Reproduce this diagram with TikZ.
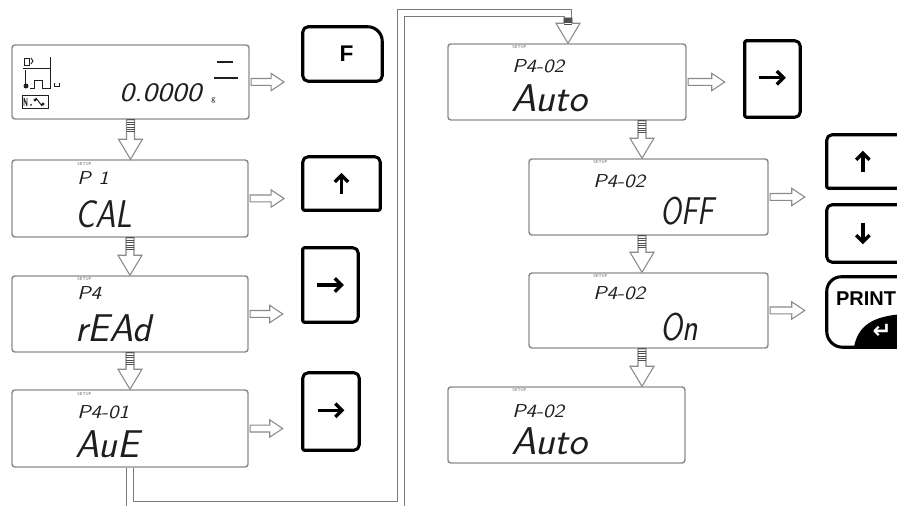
\documentclass[tikz,border=0pt]{standalone}
\usepackage{fontspec}
\usetikzlibrary{fit,calc,arrows.meta}
\newfontfamily\keyfont{Liberation Sans}
\newfontfamily\symfont{DejaVu Sans}
\definecolor{lcdgray}{HTML}{8C8C8C}
\definecolor{lcdtext}{HTML}{1E1E1E}
\definecolor{arrgray}{HTML}{8A8A8A}
\definecolor{hatchc}{HTML}{505050}
\definecolor{linegray}{HTML}{7A7A7A}
\tikzset{
 lcd/.style={draw=lcdgray, line width=1.1pt, rounded corners=2.2pt, fill=white, inner sep=0pt},
 keyspot/.style={inner sep=0pt},
 keyline/.style={draw=black, line width=2.3pt, fill=white, line join=round},
 blockarrow/.style={draw=arrgray, line width=0.8pt, fill=white, line join=miter},
 hatchline/.style={draw=hatchc, line width=0.6pt},
 dbl/.style={draw=linegray, line width=0.85pt, double=white, double distance=4.3pt},
 setuptxt/.style={font=\sffamily\fontsize{3.2}{4}\selectfont, text=black!60, inner sep=0pt, anchor=base west},
 smalltxt/.style={font=\sffamily\itshape\fontsize{14}{14}\selectfont, text=lcdtext, inner sep=0pt, anchor=base west},
 bigtxt/.style={font=\sffamily\itshape\fontsize{29}{29}\selectfont, text=lcdtext, inner sep=0pt, anchor=base west},
 keytxt/.style={font=\keyfont\bfseries\fontsize{14}{14}\selectfont, inner sep=0pt},
 keyarrow/.style={draw=black, line width=2.5pt, -{Straight Barb[length=5pt,width=10pt]}},
 icon/.style={draw=lcdtext, line width=0.7pt},
}
\newcommand\vdarrow[3]{%
  \draw[blockarrow] let \p1=(#1), \p2=(#2) in
    ({\x1-3pt},{\y1}) -- ({\x1-3pt},{\y2+15pt}) -- ({\x1-9pt},{\y2+15pt}) -- (\x1,\y2)
    -- ({\x1+9pt},{\y2+15pt}) -- ({\x1+3pt},{\y2+15pt}) -- ({\x1+3pt},{\y1}) -- cycle;
  \foreach \k in {0,...,5}{\draw[hatchline] let \p1=(#1) in ({\x1-3pt},{\y1-\k*#3/5}) -- ({\x1+3pt},{\y1-\k*#3/5});}%
}
\newcommand\hrarrow[2]{%
  \draw[blockarrow] let \p1=(#1), \p2=(#2) in
   ({\x1+1pt},{\y1+2.6pt}) -- ({\x2-9.75pt},{\y1+2.6pt}) -- ({\x2-9.75pt},{\y1+6.5pt}) -- (\x2,\y1)
   -- ({\x2-9.75pt},{\y1-6.5pt}) -- ({\x2-9.75pt},{\y1-2.6pt}) -- ({\x1+1pt},{\y1-2.6pt}) -- cycle;}
\newcommand\keyshape[5]{%
  \draw[keyline] (#1.west) [rounded corners=#2] -- (#1.north west) [rounded corners=#3] -- (#1.north east)
   [rounded corners=#4] -- (#1.south east) [rounded corners=#5] -- (#1.south west) [sharp corners] -- cycle;}
\newcommand\sx[2]{\scalebox{#1}[1]{#2}}
\begin{document}
\begin{tikzpicture}[x=0.75pt,y=-0.75pt]
\useasboundingbox[fill=white] (0,0) rectangle (897,506);

% connector (double line)
\coordinate (c1) at (130,505);
\coordinate (c2) at (401,505);
\coordinate (c3) at (401,13);
\coordinate (c4) at (568,13);
\coordinate (c5) at (568,18);

% LCD boxes
\node[lcd, fit={(12,45)(249,119)}] (b1) {};
\node[lcd, fit={(12,160)(248,237)}] (b2) {};
\node[lcd, fit={(12,276)(248,352)}] (b3) {};
\node[lcd, fit={(12,390)(248,467)}] (b4) {};
\node[lcd, fit={(448,44)(686,120)}] (b5) {};
\node[lcd, fit={(529,159)(768,235)}] (b6) {};
\node[lcd, fit={(529,273)(768,348)}] (b7) {};
\node[lcd, fit={(448,387)(685,463)}] (b8) {};

\draw[dbl] (b4.south) -- (c1) -- (c2) -- (c3) -- (c4) -- (c5);

% keys
\node[keyspot, fit={(303,27)(382,81)}] (kF) {};
\node[keyspot, fit={(303,157)(380,210)}] (kUp1) {};
\node[keyspot, fit={(303,248)(358,322)}] (kR1) {};
\node[keyspot, fit={(303,373)(359,450)}] (kR2) {};
\node[keyspot, fit={(745,41)(800,117)}] (kR3) {};
\node[keyspot, fit={(827,135)(904,188)}] (kUp2) {};
\node[keyspot, fit={(827,205)(904,262)}] (kDn) {};
\node[keyspot, fit={(827,277)(904,347)}] (kPr) {};

\keyshape{kF}{4pt}{11pt}{4pt}{4pt}
\keyshape{kUp1}{4pt}{4pt}{1pt}{1pt}
\keyshape{kR1}{1pt}{4pt}{4pt}{1pt}
\keyshape{kR2}{4pt}{4pt}{4pt}{1pt}
\keyshape{kR3}{1pt}{4pt}{4pt}{1pt}
\keyshape{kUp2}{4pt}{4pt}{4pt}{1pt}
\keyshape{kDn}{4pt}{4pt}{4pt}{4pt}
\keyshape{kPr}{11pt}{4pt}{4pt}{12pt}

\node[keytxt, font=\keyfont\bfseries\fontsize{17}{17}\selectfont] (tF) at ([xshift=3pt]kF.center) {F};
\draw[keyarrow] ([yshift=-8pt]kUp1.center) -- ([yshift=8pt]kUp1.center);
\draw[keyarrow] ([xshift=-10pt]kR1.center) -- ([xshift=10pt]kR1.center);
\draw[keyarrow] ([xshift=-10pt,yshift=1pt]kR2.center) -- ([xshift=10pt,yshift=1pt]kR2.center);
\draw[keyarrow] ([xshift=-10pt,yshift=1pt]kR3.center) -- ([xshift=10pt,yshift=1pt]kR3.center);
\draw[keyarrow] ([xshift=-2pt,yshift=-8pt]kUp2.center) -- ([xshift=-2pt,yshift=8pt]kUp2.center);
\draw[keyarrow] ([xshift=-2pt,yshift=8pt]kDn.center) -- ([xshift=-2pt,yshift=-8pt]kDn.center);
\fill[black] (854,347) .. controls (858,326) and (872,316) .. (904,314) -- (904,347) -- cycle;
\node[keytxt, font=\keyfont\bfseries\fontsize{15}{15}\selectfont] (tPr) at (866,299) {PRINT};
\node[font=\symfont\bfseries\fontsize{17}{17}\selectfont, text=white, inner sep=0pt] (tEnt) at (882,331) {↵};

% arrows between boxes
\vdarrow{b1.south}{b2.north}{9pt}
\vdarrow{b2.south}{b3.north}{9pt}
\vdarrow{b3.south}{b4.north}{9pt}
\vdarrow{c5}{b5.north}{4.5pt}
\vdarrow{b5.south -| 642,0}{b6.north}{9pt}
\vdarrow{b6.south -| 642,0}{b7.north}{9pt}
\vdarrow{b7.south -| 642,0}{b8.north}{9pt}

\hrarrow{b1.east}{[xshift=-14pt]kF.west}
\hrarrow{b2.east}{[xshift=-14pt]kUp1.west}
\hrarrow{b3.east}{[xshift=-15pt]kR1.west}
\hrarrow{b4.east}{[xshift=-15pt]kR2.west}
\hrarrow{b5.east}{[xshift=-15pt]kR3.west}
\hrarrow{b6.east}{[xshift=-16.5pt]kUp2.west}
\hrarrow{b7.east}{[xshift=-16.5pt]kPr.west}

% box 1 contents
\draw[icon] (50,57) -- (50,88) -- (42,88) -- (42,80) -- (34,80) -- (34,88) -- (30,88);
\draw[icon] (23,68) -- (50,68);
\draw[icon] (24,58) rectangle (29,65);
\draw[icon] (31,58) -- (33,61) -- (31,64);
\draw[icon] (25,70) -- (25,85);
\fill[lcdtext] (26,86) circle (2.5);
\draw[icon] (54,83) -- (54,86) -- (59,86) -- (59,83);
\draw[icon] (22,95) rectangle (48,108);
\draw[icon] (24,98) -- (24,106) (27,98) -- (27,106) (24,98) -- (27,106);
\fill[lcdtext] (31,105) circle (1);
\draw[icon] (36,98) -- (42,106) (35,100) circle (1) (43,104) circle (1);
\draw[lcdtext, line width=1.1pt] (217,62) -- (233,62);
\draw[lcdtext, line width=2pt] (214,78) -- (238,78);
\node[font=\sffamily\itshape\fontsize{20}{20}\selectfont, text=lcdtext, inner sep=0pt, anchor=base west] (t1) at (119,102) {\sx{1.18}{0.0000}};
\node[font=\sffamily\fontsize{6}{6}\selectfont, text=lcdtext, inner sep=0pt, anchor=base west] (t1g) at (211,102) {g};

% texts
\node[setuptxt] (s2) at (77,166) {SETUP};
\node[smalltxt] (p2) at (77,185) {\sx{1.15}{P\hspace{5pt}1}};
\node[bigtxt] (m2) at (75,228) {\sx{0.85}{CAL}};
\node[setuptxt] (s3) at (77,281) {SETUP};
\node[smalltxt] (p3) at (77,300) {\sx{1.15}{P4}};
\node[bigtxt] (m3) at (75,342) {rEAd};
\node[setuptxt] (s4) at (77,395) {SETUP};
\node[smalltxt] (p4) at (77,418) {\sx{1.15}{P4-01}};
\node[bigtxt] (m4) at (75,457) {AuE};
\node[setuptxt] (s5) at (512,49) {SETUP};
\node[smalltxt] (p5) at (512,73) {\sx{1.15}{P4-02}};
\node[bigtxt] (m5) at (511,112) {\sx{1.04}{Auto}};
\node[setuptxt] (s6) at (593,164) {SETUP};
\node[smalltxt] (p6) at (593,188) {\sx{1.15}{P4-02}};
\node[bigtxt] (m6) at (660,225) {\sx{0.78}{OFF}};
\node[setuptxt] (s7) at (593,278) {SETUP};
\node[smalltxt] (p7) at (593,300) {\sx{1.15}{P4-02}};
\node[bigtxt] (m7) at (660,340) {\sx{0.82}{On}};
\node[setuptxt] (s8) at (512,391) {SETUP};
\node[smalltxt] (p8) at (512,417) {\sx{1.15}{P4-02}};
\node[bigtxt] (m8) at (511,454) {\sx{1.04}{Auto}};
\end{tikzpicture}
\end{document}
